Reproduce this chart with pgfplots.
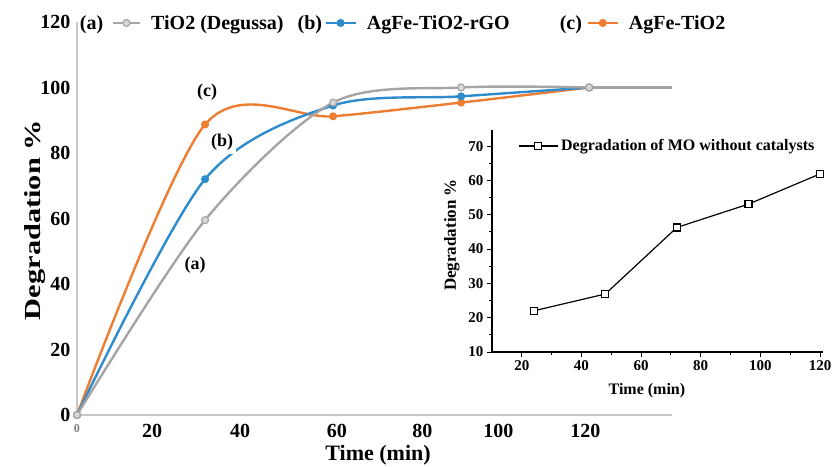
\documentclass[border=0pt]{standalone}
\usepackage{fontspec}
\setmainfont{Liberation Serif}
\usepackage{graphicx}
\usepackage{pgfplots}
\pgfplotsset{compat=1.18}
\definecolor{cgray}{HTML}{A5A5A5}
\definecolor{cblue}{HTML}{2E8BCC}
\definecolor{corange}{HTML}{ED7D31}
\definecolor{caxis}{HTML}{C8C8C8}
\newcommand{\fs}[1]{\fontsize{#1}{#1}\selectfont\bfseries}
\begin{document}
\begin{tikzpicture}
\useasboundingbox (0,0) rectangle (832pt,466pt);
\begin{axis}[
  at={(77pt,51pt)}, anchor=south west,
  scale only axis, width=595pt, height=393pt,
  xmin=0, xmax=139.4, ymin=0, ymax=120,
  axis x line=bottom, axis y line=left,
  axis line style={caxis, line width=2pt, -},
  major tick length=0pt,
  xtick={0,17.6,38.2,60.9,80.9,98.7,119.1},
  xticklabels={{\fs{12}\color{gray}0},20,40,60,80,100,120},
  ytick={0,20,...,120},
  /pgf/number format/assume math mode=true,
  tick label style={font=\fs{20}},
  xticklabel style={yshift=-6pt},
  yticklabel style={xshift=-3pt},
  every axis x label/.style={at={(axis description cs:0.506,-0.1018)},anchor=center,font=\fs{22}},
  every axis y label/.style={at={(axis description cs:-0.070,0.496)},rotate=90,anchor=center,font=\fs{23}},
  xlabel={Time (min)},
  ylabel={\scalebox{1.32}[1]{Degradation \%}},
  clip=false,
  reverse legend,
  legend columns=3,
  legend style={at={(axis cs:0.7,119.7)}, anchor=west, draw=none, fill=none,
    inner sep=0pt, outer sep=0pt, font=\fs{20},
    nodes={inner sep=0pt, anchor=west},
    /tikz/column 1/.style={column sep=10pt},
    /tikz/column 2/.style={column sep=14pt},
    /tikz/column 3/.style={column sep=10pt},
    /tikz/column 4/.style={column sep=50pt},
    /tikz/column 5/.style={column sep=10pt}},
]
% tail of series (a) beyond 120 min
\addplot[cgray, line width=2.4pt, forget plot] coordinates {(120,100)(139.4,100)};
\addplot[corange, line width=2.4pt, smooth, tension=0.5, mark=*, mark size=3.5pt,
  mark options={fill=corange, draw=corange, line width=1pt},
  legend image code/.code={
    \node[text=black, anchor=west, inner sep=0pt, font=\fs{20}] at (0pt,0pt) {(c)};
    \draw[mark repeat=2, mark phase=2] plot coordinates {(28pt,0pt)(43pt,0pt)(58pt,0pt)};
  }] coordinates {(0,0)(30,88.7)(60,91.2)(90,95.4)(120,100)};
\addlegendentry{AgFe-TiO2}
\addplot[cblue, line width=2.4pt, smooth, tension=0.5, mark=*, mark size=3.5pt,
  mark options={fill=cblue, draw=cblue, line width=1pt},
  legend image code/.code={
    \node[text=black, anchor=west, inner sep=0pt, font=\fs{20}] at (0pt,0pt) {(b)};
    \draw[mark repeat=2, mark phase=2] plot coordinates {(28pt,0pt)(43pt,0pt)(58pt,0pt)};
  }] coordinates {(0,0)(30,72)(60,94.5)(90,97.3)(120,100)};
\addlegendentry{AgFe-TiO2-rGO}
\addplot[cgray, line width=2.4pt, smooth, tension=0.5, mark=*, mark size=3.5pt,
  mark options={fill=cgray!45, draw=cgray, line width=1.2pt},
  legend image code/.code={
    \node[text=black, anchor=west, inner sep=0pt, font=\fs{20}] at (0pt,0pt) {(a)};
    \draw[mark repeat=2, mark phase=2] plot coordinates {(33pt,0pt)(46.5pt,0pt)(60pt,0pt)};
  }] coordinates {(0,0)(30,59.5)(60,95.4)(90,100)(120,100)};
\addlegendentry{TiO2 (Degussa)}
\node[font=\fs{18}] at (axis cs:30.5,98.6) {(c)};
\node[font=\fs{18}, fill=white, inner sep=3pt] at (axis cs:34,83.2) {(b)};
\node[font=\fs{18}] at (axis cs:27.7,45.8) {(a)};
\end{axis}

\begin{axis}[
  at={(492pt,114pt)}, anchor=south west,
  scale only axis, width=331pt, height=222pt,
  xmin=10, xmax=121, ymin=10, ymax=74.7,
  axis x line=bottom, axis y line=left,
  axis line style={black, line width=1.2pt, -},
  xtick={20,40,...,120}, ytick={10,20,...,70},
  minor x tick num=1, minor y tick num=1,
  tick align=outside,
  major tick length=5pt, minor tick length=3pt,
  tick style={black, line width=1pt},
  /pgf/number format/assume math mode=true,
  tick label style={font=\fs{15}},
  every axis x label/.style={at={(axis description cs:0.468,-0.176)},anchor=center,font=\fs{16}},
  every axis y label/.style={at={(axis description cs:-0.121,0.527)},rotate=90,anchor=center,font=\fs{17}},
  xlabel={Time (min)},
  ylabel={Degradation \%},
  clip=false,
  legend style={at={(axis cs:18.7,70.06)}, anchor=west, draw=none, fill=none,
    inner sep=0pt, outer sep=0pt, font=\fs{16},
    nodes={inner sep=0pt, anchor=west},
    /tikz/column 1/.style={column sep=3pt}},
  legend image code/.code={
    \draw[mark repeat=2, mark phase=2] plot coordinates {(0pt,0pt)(19.5pt,0pt)(39pt,0pt)};
  },
]
\addplot[black, line width=1.2pt, mark=square*, mark size=3.5pt,
  mark options={fill=white, draw=black, line width=1.2pt}]
  coordinates {(24,22)(48,26.9)(72,46.3)(96,53.1)(120,61.9)};
\addlegendentry{Degradation of MO without catalysts}
\end{axis}
\end{tikzpicture}
\end{document}
